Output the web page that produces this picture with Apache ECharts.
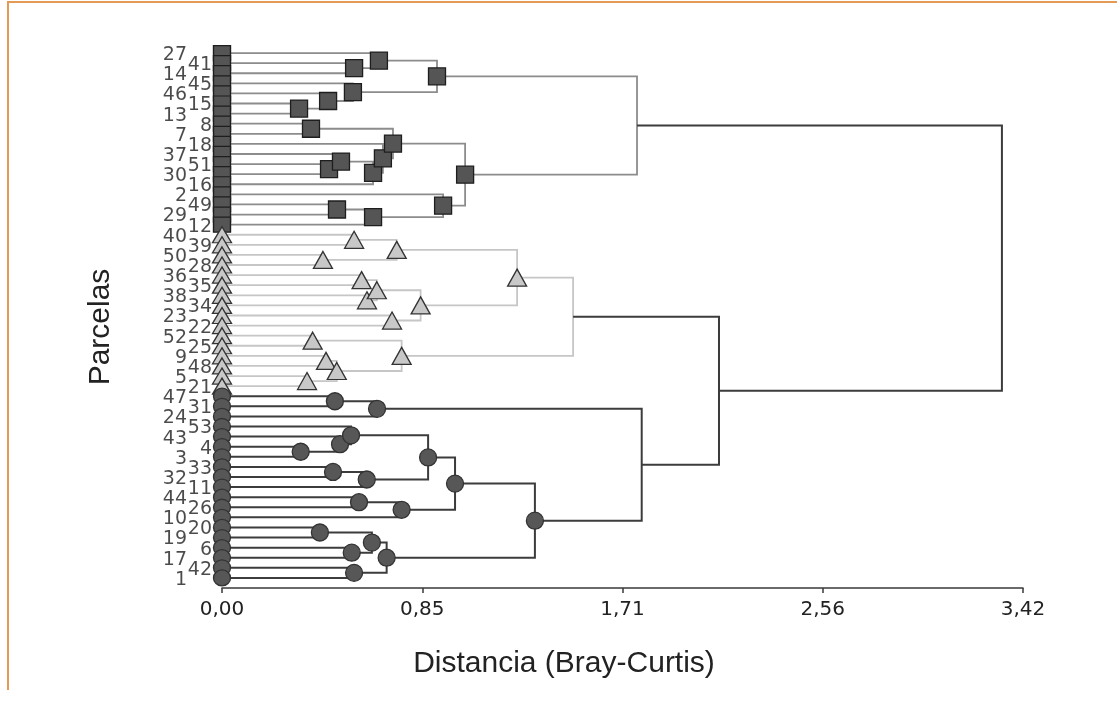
<!DOCTYPE html>
<html>
<head>
<meta charset="utf-8">
<title>Dendrograma Bray-Curtis</title>
<script src="https://cdn.jsdelivr.net/npm/echarts@6/dist/echarts.min.js"></script>
<style>
  html,body{margin:0;padding:0;background:#fff;}
  #chart{width:1117px;height:701px;}
</style>
</head>
<body>
<div id="chart"></div>
<script>
// hojas (parcelas) en el orden del dendrograma, de arriba a abajo
const squareLeaves=['27','41','14','45','46','15','13','8','7','18','37','51','30','16','2','49','29','12']
const triangleLeaves=['40','39','50','28','36','35','38','34','23','22','52','25','9','48','5','21']
const circleLeaves=['47','31','24','53','43','4','3','33','32','11','44','26','10','20','19','6','17','42','1']

// uniones: [nodo, hijo1, hijo2, distancia]
const squareMerges=[
  ['a','41','14',0.564],
  ['b','27','a',0.670],
  ['c','15','13',0.329],
  ['d','46','c',0.453],
  ['e','45','d',0.559],
  ['f','b','e',0.918],
  ['g','8','7',0.380],
  ['p','51','30',0.457],
  ['o','37','p',0.508],
  ['n','o','16',0.645],
  ['m','18','n',0.687],
  ['h','g','m',0.730],
  ['l','49','29',0.491],
  ['k','l','12',0.645],
  ['j','2','k',0.944],
  ['i','h','j',1.038],
  ['q','f','i',1.772]
]
const triangleMerges=[
  ['ba','40','39',0.564],
  ['bb','50','28',0.431],
  ['bc','ba','bb',0.746],
  ['bd','36','35',0.596],
  ['be','38','34',0.619],
  ['bf','bd','be',0.661],
  ['bg','23','22',0.726],
  ['bh','bf','bg',0.848],
  ['bi','bc','bh',1.260],
  ['bj','52','25',0.387],
  ['bk','9','48',0.444],
  ['bl','5','21',0.363],
  ['bm','bk','bl',0.490],
  ['bn','bj','bm',0.767],
  ['s','bi','bn',1.499]
]
const circleMerges=[
  ['w','47','31',0.482],
  ['u','w','24',0.662],
  ['aa','4','3',0.336],
  ['ab','43','aa',0.504],
  ['z','53','ab',0.551],
  ['ac','33','32',0.474],
  ['ad','ac','11',0.618],
  ['y','z','ad',0.880],
  ['ae','44','26',0.585],
  ['af','ae','10',0.767],
  ['x','y','af',0.995],
  ['ag','20','19',0.418],
  ['ah','6','17',0.554],
  ['ai','ag','ah',0.640],
  ['aj','42','1',0.564],
  ['ak','ai','aj',0.703],
  ['v','x','ak',1.336],
  ['t','u','v',1.792]
]
const topMerges=[
  ['r','s','t',2.122],
  ['root','q','r',3.330]
]
// nodos dibujados sin simbolo
const noMarker=['q','s','t','r','root']

const tickLabels=['0,00','0,85','1,71','2,56','3,42']
const tickStep=0.855

const leaves=[...squareLeaves,...triangleLeaves,...circleLeaves]
const pos={}
leaves.forEach((name,i)=>{ pos[name]={x:0,y:i} })

// cada union es una "U": dos horizontales y una vertical
const buildLinks=(list)=>list.map(m=>{
  const c1=pos[m[1]]
  const c2=pos[m[2]]
  pos[m[0]]={x:m[3],y:(c1.y+c2.y)/2}
  return {coords:[[c1.x,c1.y],[m[3],c1.y],[m[3],c2.y],[c2.x,c2.y]]}
})
const squareLinks=buildLinks(squareMerges)
const triangleLinks=buildLinks(triangleMerges)
const circleLinks=buildLinks(circleMerges)
const topLinks=buildLinks(topMerges)

const markerPoints=(leafList,mergeList,leafSize,nodeSize)=>{
  const pts=leafList.map(n=>({value:[0,pos[n].y],symbolSize:leafSize}))
  mergeList.forEach(m=>{
    if(noMarker.indexOf(m[0])<0) pts.push({value:[pos[m[0]].x,pos[m[0]].y],symbolSize:nodeSize})
  })
  return pts
}

const linkSeries=(data,color,width)=>({
  type:'lines',
  coordinateSystem:'cartesian2d',
  polyline:true,
  silent:true,
  z:2,
  lineStyle:{color:color,width:width,opacity:1},
  data:data
})

const markerSeries=(symbol,data,fill,border)=>({
  type:'scatter',
  symbol:symbol,
  z:3,
  silent:true,
  itemStyle:{color:fill,borderColor:border,borderWidth:1.3,opacity:1},
  data:data
})

const labelData=leaves.map((name,i)=>({
  name:name,
  value:[0,i],
  label:{distance:i%2===0?35:10}
}))

const chart=echarts.init(document.getElementById('chart'))

const option={
  animation:false,
  grid:{left:222,right:94,top:48,bottom:113},
  xAxis:{
    type:'value',
    position:'bottom',
    min:0,
    max:3.42,
    interval:tickStep,
    splitLine:{show:false},
    axisLine:{show:true,onZero:false,lineStyle:{color:'#3a3a3a',width:1.5}},
    axisTick:{show:true,length:5,lineStyle:{color:'#3a3a3a',width:1.5}},
    axisLabel:{
      margin:12,
      fontFamily:'DejaVu Sans',
      fontSize:20,
      color:'#222',
      formatter:(v)=>tickLabels[Math.round(v/tickStep)]
    }
  },
  yAxis:{type:'value',inverse:true,min:-0.5,max:53,show:false},
  series:[
    linkSeries(squareLinks,'#8c8c8c',1.8),
    linkSeries(triangleLinks,'#c6c6c6',1.8),
    linkSeries(circleLinks,'#3c3c3c',2),
    linkSeries(topLinks,'#3c3c3c',2),
    markerSeries('rect',markerPoints(squareLeaves,squareMerges,[17,15],[17,17]),'#555555','#1e1e1e'),
    markerSeries('triangle',markerPoints(triangleLeaves,triangleMerges,[19,16],[19,17]),'#c8c8c8','#333333'),
    markerSeries('circle',markerPoints(circleLeaves,circleMerges,[17,16],[17,17]),'#575757','#333333'),
    {
      type:'scatter',
      symbolSize:0,
      silent:true,
      z:4,
      label:{
        show:true,
        position:'left',
        offset:[0,2],
        formatter:'{b}',
        fontFamily:'DejaVu Sans',
        fontSize:19,
        color:'#1e1e1e'
      },
      data:labelData
    }
  ],
  graphic:[
    {
      type:'polyline',
      shape:{points:[[8,690],[8,2],[1117,2]]},
      style:{stroke:'#e39a55',lineWidth:2,fill:null}
    },
    {
      type:'text',
      x:564,
      y:664,
      style:{text:'Distancia (Bray-Curtis)',font:'30px "Liberation Sans"',fill:'#222',align:'center',verticalAlign:'middle'}
    },
    {
      type:'text',
      x:101,
      y:327,
      rotation:Math.PI/2,
      style:{text:'Parcelas',font:'30px "Liberation Sans"',fill:'#222',align:'center',verticalAlign:'middle'}
    }
  ]
}

chart.setOption(option)
</script>
</body>
</html>
